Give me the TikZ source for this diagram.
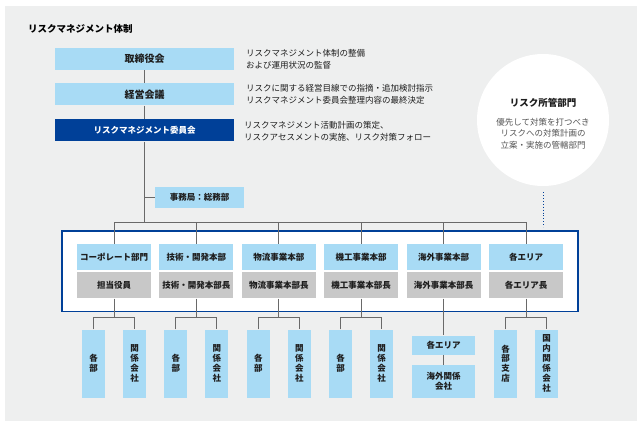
\documentclass[tikz,border=0pt]{standalone}
\usepackage{fontspec}
\setmainfont{Noto Sans CJK JP}
\usepackage{xcolor}
\usetikzlibrary{positioning,calc,fit,backgrounds}
\definecolor{rmBg}{RGB}{238,239,239}
\definecolor{rmSky}{RGB}{168,219,245}
\definecolor{rmGray}{RGB}{200,200,200}
\definecolor{rmNavy}{RGB}{0,64,152}
\definecolor{rmLine}{RGB}{105,105,105}
\definecolor{rmInk}{RGB}{30,30,30}
\definecolor{rmSoft}{RGB}{85,85,85}
\tikzset{
  rmbox/.style={fill=#1,text=rmInk,inner sep=0pt,align=center,
                font=\bfseries\fontsize{8.5}{10}\selectfont},
  deptbox/.style={rmbox=rmSky,minimum width=74pt,minimum height=26pt},
  mgrbox/.style={rmbox=rmGray,minimum width=74pt,minimum height=26pt},
  subbox/.style={rmbox=rmSky,minimum width=23pt,minimum height=68pt,
                 font=\bfseries\fontsize{8.5}{9.9}\selectfont},
  rmnote/.style={font=\fontsize{8.5}{12}\selectfont,text=rmInk,align=left,
                 anchor=west,inner sep=0pt},
  rmline/.style={draw=rmLine,line width=0.9pt},
}

\begin{document}
\begin{tikzpicture}[
  x=1pt, y=-1pt,
  every node/.style={align=center},
  topbox/.style={minimum width=179pt,minimum height=22pt},
]
\useasboundingbox (0,0) rectangle (643,426);

% =================================================================
% background and title
% =================================================================
\begin{scope}[on background layer]
  \fill[rmBg] (5,6) rectangle (637,421);
\end{scope}
\node[font=\bfseries\fontsize{9.5}{11}\selectfont, anchor=west, inner sep=0pt]
      (title) at (28,29) {リスクマネジメント体制};

% =================================================================
% governance chain
% =================================================================
\node[rmbox=rmSky, topbox, font=\bfseries\fontsize{10}{12}\selectfont]
      (board) at (144.5,59) {取締役会};
\node[rmbox=rmSky, topbox, font=\bfseries\fontsize{10}{12}\selectfont, below=13pt of board]
      (mgmt) {経営会議};
\node[rmbox=rmNavy, topbox, text=white, below=13.5pt of mgmt]
      (cmte) {リスクマネジメント委員会};

\node[rmnote] (boardNote) at (246,59)   {リスクマネジメント体制の整備\\および運用状況の監督};
\node[rmnote] (mgmtNote)  at (246,94.5) {リスクに関する経営目線での指摘・追加検討指示\\リスクマネジメント委員会整理内容の最終決定};
\node[rmnote] (cmteNote)  at (244,131)  {リスクマネジメント活動計画の策定、\\リスクアセスメントの実施、リスク対策フォロー};

\draw[rmline] (board) -- (mgmt);
\draw[rmline] (mgmt)  -- (cmte);

% secretariat on the trunk
\coordinate (bus) at (144.5,222);
\node[rmbox=rmSky, minimum width=89pt, minimum height=21pt]
      (sec) at (199.5,197.5) {事務局：総務部};
\draw[rmline] (cmte.south) -- (bus);
\draw[rmline] (sec.west -| bus) -- (sec.west);

% =================================================================
% divisions (inside the blue frame)
% =================================================================
\node[deptbox]                     (corp) at (114,257) {コーポレート部門};
\node[deptbox, right=8pt of corp]  (tech) {技術・開発本部};
\node[deptbox, right=8pt of tech]  (logi) {物流事業本部};
\node[deptbox, right=8pt of logi]  (mach) {機工事業本部};
\node[deptbox, right=8pt of mach]  (intl) {海外事業本部};
\node[deptbox, right=8pt of intl]  (area) {各エリア};

\node[mgrbox, below=2pt of corp] (corpMgr) {担当役員};
\node[mgrbox, below=2pt of tech] (techMgr) {技術・開発本部長};
\node[mgrbox, below=2pt of logi] (logiMgr) {物流事業本部長};
\node[mgrbox, below=2pt of mach] (machMgr) {機工事業本部長};
\node[mgrbox, below=2pt of intl] (intlMgr) {海外事業本部長};
\node[mgrbox, below=2pt of area] (areaMgr) {各エリア長};

\begin{scope}[on background layer]
  \node[draw=rmNavy, line width=1.7pt, fill=white, inner xsep=15pt, inner ysep=13pt,
        fit=(corp)(areaMgr)] (frame) {};
\end{scope}

\draw[rmline] (corp.north |- bus) -- (area.north |- bus);
\foreach \d in {corp,tech,logi,mach,intl,area}
  \draw[rmline] (\d.north |- bus) -- (\d.north);

% =================================================================
% group companies / branches
% =================================================================
\foreach \d in {corp,tech,logi,mach}{
  \node[subbox] (\d Sub1) at ($(\d Mgr.south)+(-20.5,65)$) {各\\部};
  \node[subbox] (\d Sub2) at ($(\d Mgr.south)+(20.5,65)$)  {関\\係\\会\\社};
}
\node[subbox] (areaSub1) at ($(areaMgr.south)+(-20.5,65)$) {各\\部\\支\\店};
\node[subbox] (areaSub2) at ($(areaMgr.south)+(20.5,65)$)  {国\\内\\関\\係\\会\\社};

\foreach \d in {corp,tech,logi,mach,area}{
  \draw[rmline] (\d Mgr.south) -- ++(0,19) coordinate (\d Fork);
  \draw[rmline] (\d Sub1.north) |- (\d Fork) -| (\d Sub2.north);
}

% overseas: areas, then overseas affiliates
\node[rmbox=rmSky, minimum width=63pt, minimum height=19pt]
      (intlArea) at ($(intlMgr.south)+(0,46.5)$) {各エリア};
\node[rmbox=rmSky, minimum width=63pt, minimum height=33pt, below=10pt of intlArea]
      (intlSub) {海外関係\\会社};
\draw[rmline] (intlMgr) -- (intlArea);
\draw[rmline] (intlArea) -- (intlSub);

% =================================================================
% risk owner circle
% =================================================================
\node[circle, fill=white, minimum size=132pt, inner sep=0pt] (owner) at (543,120) {};
\node[font=\bfseries\fontsize{9.5}{11}\selectfont, text=rmInk] (ownerTitle) at (543,103) {リスク所管部門};
\node[font=\fontsize{8.5}{11.5}\selectfont, text=rmSoft] (ownerNote) at (543,133.5)
      {優先して対策を打つべき\\リスクへの対策計画の\\立案・実施の管轄部門};
\coordinate (ownerLink) at (543,227);
\draw[rmNavy, dotted, line width=0.9pt] ($(owner.south)+(0,6)$) -- (ownerLink);

\end{tikzpicture}
\end{document}
